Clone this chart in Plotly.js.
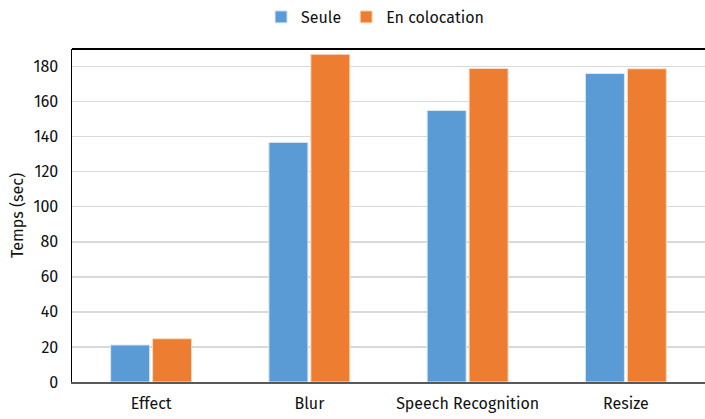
<!DOCTYPE html>
<html>
<head>
<meta charset="utf-8">
<script src="https://cdn.plot.ly/plotly-3.0.1.min.js"></script>
<style>html,body{margin:0;padding:0;background:#fff;}#chart{width:705px;height:419px;}</style>
</head>
<body>
<div id="chart"></div>
<script>
const categories = ["Effect", "Blur", "Speech Recognition", "Resize"];
const seule = [21.1, 136.7, 154.9, 176.0];
const colocation = [24.7, 187.0, 178.9, 178.7];
const seriesNames = ["Seule", "En colocation"];
const yTicks = [0, 20, 40, 60, 80, 100, 120, 140, 160, 180];

const FONT = "Fira Sans, Noto Sans, Open Sans, sans-serif";

const traces = [
  {type: "bar", name: seriesNames[0], x: categories, y: seule,
   marker: {color: "#5B9BD5", line: {color: "#d6e6f5", width: 1}}},
  {type: "bar", name: seriesNames[1], x: categories, y: colocation,
   marker: {color: "#ED7D31", line: {color: "#fbdcc8", width: 1}}}
];

const layout = {
  width: 705, height: 419,
  margin: {l: 72, r: 0, t: 49, b: 37},
  paper_bgcolor: "#fff", plot_bgcolor: "#fff",
  font: {family: FONT, size: 16, color: "#111"},
  barmode: "group",
  bargap: 0.47,
  bargroupgap: 0.07,
  showlegend: true,
  legend: {orientation: "h", x: 0.532, xref: "container", xanchor: "center", y: 1.0, yref: "container", yanchor: "top",
           font: {size: 16, color: "#111"}, itemwidth: 30, traceorder: "normal"},
  xaxis: {type: "category", showgrid: false, showline: true, linecolor: "#595959", linewidth: 2,
          ticks: "", ticklabelstandoff: 6, tickfont: {size: 16, color: "#111"}, fixedrange: true},
  yaxis: {range: [0, 190], tickvals: yTicks, ticktext: yTicks.map(String),
          showgrid: true, gridcolor: "#d9d9d9", gridwidth: 1.5,
          showline: true, linecolor: "#000", linewidth: 1.5, zeroline: false,
          ticks: "", ticklabelstandoff: 9,
          tickfont: {size: 16, color: "#111"},
          title: {text: "Temps (sec)", font: {size: 16, color: "#111"}, standoff: 6}},
  shapes: [{type: "line", xref: "paper", yref: "paper", x0: 0, x1: 1, y0: 1, y1: 1,
            line: {color: "#000", width: 2}}]
};

Plotly.newPlot("chart", traces, layout, {displayModeBar: false, staticPlot: true});
</script>
</body>
</html>
